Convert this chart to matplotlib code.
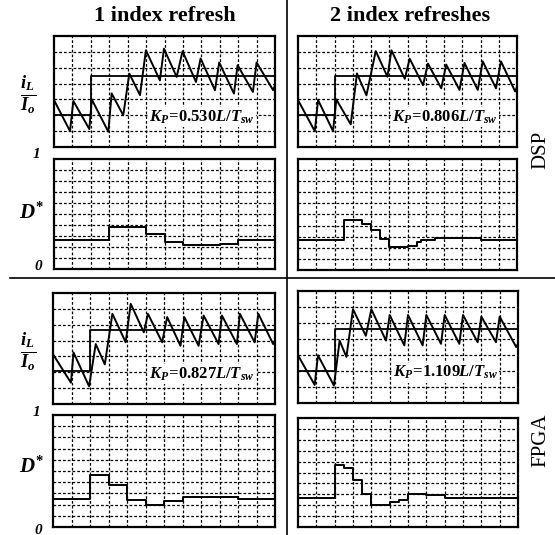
import matplotlib
matplotlib.use("Agg")
import matplotlib.pyplot as plt
from matplotlib.lines import Line2D

plt.rcParams['font.family'] = ['Liberation Serif', 'DejaVu Serif']
plt.rcParams['mathtext.fontset'] = 'custom'
plt.rcParams['mathtext.it'] = 'Liberation Serif:italic:bold'
plt.rcParams['mathtext.rm'] = 'Liberation Serif:bold'
plt.rcParams['mathtext.bf'] = 'Liberation Serif:bold'

# ---------------- data (time in switching periods, current in grid divisions) -------------
col_titles = ["1 index refresh", "2 index refreshes"]
row_labels = ["DSP", "FPGA"]
kp_labels = [["0.530", "0.806"], ["0.827", "1.109"]]

# reference current (step)
ref_step_t = [[2.0, 2.0], [2.0, 2.0]]
ref_lo = [[2.0, 2.0], [2.05, 2.0]]
ref_hi = [[4.5, 4.5], [4.65, 4.6]]

# inductor current vertices
il_dsp1_t = [0.0, 0.87, 1.05, 1.92, 2.05, 2.95, 3.13, 3.76, 4.09, 4.67, 4.99, 5.75, 5.97,
             6.66, 6.98, 7.71, 7.96, 8.74, 8.97, 9.77, 9.97, 10.8, 11.0, 11.9, 12.0]
il_dsp1_v = [2.96, 1.0, 2.9, 1.13, 3.0, 0.96, 3.38, 2.0, 4.63, 3.27, 6.1, 4.2, 6.2,
             4.42, 6.04, 4.1, 5.58, 3.58, 5.33, 3.37, 5.16, 3.47, 5.33, 3.58, 3.9]

il_dsp2_t = [0.0, 0.92, 1.1, 1.92, 2.1, 2.89, 3.23, 3.75, 4.26, 4.9, 5.12, 5.85, 6.12,
             6.85, 7.12, 7.85, 8.12, 8.85, 9.12, 9.85, 10.12, 10.85, 11.12, 11.9, 12.0]
il_dsp2_v = [2.96, 1.0, 2.96, 1.0, 3.0, 1.43, 4.64, 3.26, 6.05, 4.43, 6.1, 4.3, 5.57,
             3.9, 5.26, 3.7, 5.2, 3.6, 5.3, 3.6, 5.4, 3.7, 5.4, 3.5, 3.8]

il_fpga1_t = [0.0, 0.97, 1.11, 1.95, 2.31, 2.8, 3.21, 3.93, 4.2, 4.91, 5.13, 5.9, 6.17,
              6.89, 7.1, 7.87, 8.14, 8.95, 9.13, 9.94, 10.1, 10.9, 11.1, 11.9, 12.0]
il_fpga1_v = [3.14, 1.34, 3.25, 1.12, 3.78, 2.5, 5.69, 3.89, 6.32, 4.52, 5.69, 3.89, 5.48,
              3.67, 5.48, 3.67, 5.58, 3.78, 5.58, 3.78, 5.69, 3.89, 5.69, 3.78, 4.0]

il_fpga2_t = [0.0, 0.91, 1.09, 1.96, 2.27, 2.64, 3.0, 3.7, 4.0, 4.8, 5.0, 5.8, 6.0,
              6.8, 7.0, 7.8, 8.0, 8.8, 9.0, 9.8, 10.0, 10.8, 11.0, 11.9, 12.0]
il_fpga2_v = [2.98, 1.13, 2.98, 1.09, 3.9, 2.88, 5.86, 4.2, 5.86, 3.9, 5.5, 3.6, 5.5,
              3.6, 5.5, 3.7, 5.5, 3.7, 5.5, 3.8, 5.4, 3.8, 5.4, 3.5, 3.7]

# duty cycle D* (step, "post")
d_dsp1_t = [0, 3, 5, 6, 7, 9, 10, 12]
d_dsp1_v = [0.264, 0.385, 0.318, 0.245, 0.214, 0.227, 0.264, 0.264]

d_dsp2_t = [0, 2.5, 3.5, 4.0, 4.5, 5.0, 6.0, 6.5, 6.75, 7.5, 8.5, 10.0, 12]
d_dsp2_v = [0.27, 0.45, 0.41, 0.36, 0.28, 0.21, 0.215, 0.25, 0.27, 0.29, 0.285, 0.27, 0.27]

d_fpga1_t = [0, 2, 3, 4, 5, 6, 7, 8, 10, 12]
d_fpga1_v = [0.252, 0.465, 0.376, 0.237, 0.199, 0.228, 0.266, 0.266, 0.252, 0.252]

d_fpga2_t = [0, 2.0, 2.5, 3.0, 3.5, 4.0, 5.0, 5.5, 6.0, 7.0, 8.0, 10.0, 12]
d_fpga2_v = [0.27, 0.57, 0.54, 0.43, 0.30, 0.20, 0.23, 0.25, 0.30, 0.29, 0.27, 0.27, 0.27]

il_t = [[il_dsp1_t, il_dsp2_t], [il_fpga1_t, il_fpga2_t]]
il_v = [[il_dsp1_v, il_dsp2_v], [il_fpga1_v, il_fpga2_v]]
d_t = [[d_dsp1_t, d_dsp2_t], [d_fpga1_t, d_fpga2_t]]
d_v = [[d_dsp1_v, d_dsp2_v], [d_fpga1_v, d_fpga2_v]]

# ---------------- layout (pixels) ----------------
W, H = 555, 535
fig = plt.figure(figsize=(W / 100, H / 100), dpi=100)

# (x0, x1, y_top, y_bottom) in pixels for the upper (current) and lower (duty) panels
up_box = [[(54, 275, 36, 147), (298, 517, 36, 147)],
          [(53, 275, 293, 404), (298, 518, 291, 403)]]
lo_box = [[(54, 275, 159, 269), (298, 517, 159, 270)],
          [(53, 275, 415, 527), (298, 518, 418, 527)]]


def add_ax(box):
    x0, x1, yt, yb = box
    return fig.add_axes([x0 / W, 1 - yb / H, (x1 - x0) / W, (yb - yt) / H])


def style(ax, ny, ymax):
    ax.set_xlim(0, 12)
    ax.set_ylim(0, ymax)
    ax.set_xticks(range(1, 12))
    ax.set_yticks([ymax * k / ny for k in range(1, ny)])
    ax.tick_params(length=0, labelbottom=False, labelleft=False)
    ax.grid(True, color='black', linestyle=(0, (2.2, 1.6)), linewidth=0.9)
    for s in ax.spines.values():
        s.set_linewidth(1.6)
        s.set_color('black')


for r in range(2):
    for c in range(2):
        axu = add_ax(up_box[r][c])
        style(axu, 7, 7)
        ts = ref_step_t[r][c]
        axu.plot([0, ts, ts, 12], [ref_lo[r][c], ref_lo[r][c], ref_hi[r][c], ref_hi[r][c]],
                 color='black', lw=1.3)
        axu.plot(il_t[r][c], il_v[r][c], color='black', lw=1.4)
        axu.text(0.67, 0.27, r"$K_P\!=\!%s L/T_{sw}$" % kp_labels[r][c],
                 transform=axu.transAxes, ha='center', va='center', fontsize=12,
                 bbox=dict(facecolor='white', edgecolor='none', pad=1.0))

        axl = add_ax(lo_box[r][c])
        style(axl, 10, 1)
        axl.step(d_t[r][c], d_v[r][c], where='post', color='black', lw=1.4)

# column titles
fig.text(165 / W, 1 - 16 / H, col_titles[0], ha='center', va='center', fontsize=16,
         fontweight='bold')
fig.text(410 / W, 1 - 16 / H, col_titles[1], ha='center', va='center', fontsize=16,
         fontweight='bold')

# row labels
fig.text(541 / W, 1 - 150 / H, row_labels[0], ha='center', va='center', fontsize=15,
         rotation=90)
fig.text(541 / W, 1 - 440 / H, row_labels[1], ha='center', va='center', fontsize=15,
         rotation=90)

# y labels on left
for yc, y1, y0, yd in [(95, 155, 267, 213), (352, 413, 530, 467)]:
    fig.text(28 / W, 1 - yc / H, r"$\frac{i_L}{I_o}$", ha='center', va='center',
             fontsize=19)
    fig.text(36 / W, 1 - y1 / H, "1", ha='center', va='center', fontsize=11,
             style='italic', fontweight='bold')
    fig.text(38 / W, 1 - y0 / H, "0", ha='center', va='center', fontsize=11,
             style='italic', fontweight='bold')
    fig.text(32 / W, 1 - yd / H, r"$D^{*}$", ha='center', va='center', fontsize=15)

# divider lines
fig.add_artist(Line2D([287 / W, 287 / W], [0, 1], color='black', lw=1.2))
fig.add_artist(Line2D([10 / W, 1], [1 - 278 / H, 1 - 278 / H], color='black', lw=1.2))

fig.savefig("out.png", dpi=100)
